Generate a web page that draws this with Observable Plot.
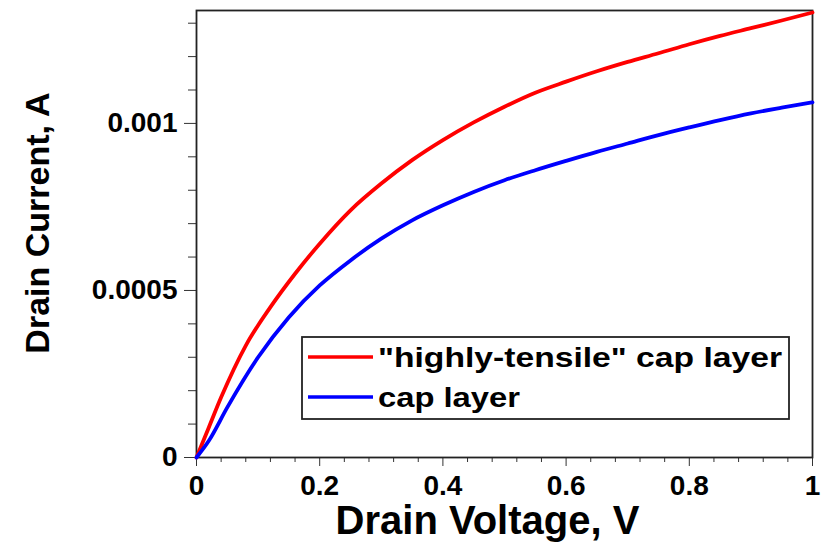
<!DOCTYPE html>
<html>
<head>
<meta charset="utf-8">
<script src="https://cdn.jsdelivr.net/npm/d3@7"></script>
<script src="https://cdn.jsdelivr.net/npm/@observablehq/plot@0.6"></script>
<style>
  html, body { margin: 0; padding: 0; background: #fff; }
  #chart { position: relative; width: 825px; height: 543px; }
</style>
</head>
<body>
<div id="chart"></div>
<script>
// ---- data ----
const seriesNames = ["\"highly-tensile\" cap layer", "cap layer"];
const seriesColors = ["#ff0000", "#0000ff"];

const tensileV = [0, 0.02, 0.04, 0.08, 0.12, 0.16, 0.2, 0.25, 0.3, 0.35, 0.4, 0.45, 0.5, 0.55, 0.6, 0.65, 0.7, 0.75, 0.8, 0.85, 0.9, 0.95, 1.0];
const tensileI = [0, 0.00009, 0.00018, 0.000335, 0.00045, 0.00055, 0.00064, 0.00074, 0.00082, 0.00089, 0.00095, 0.001003, 0.00105, 0.001092, 0.001125, 0.001156, 0.001184, 0.00121, 0.001237, 0.001262, 0.001285, 0.001308, 0.001332];

const capV = [0, 0.02, 0.05, 0.1, 0.15, 0.2, 0.25, 0.3, 0.35, 0.4, 0.45, 0.5, 0.55, 0.6, 0.65, 0.7, 0.75, 0.8, 0.85, 0.9, 0.95, 1.0];
const capI = [0, 0.00005, 0.00015, 0.0003, 0.00042, 0.000515, 0.00059, 0.000655, 0.00071, 0.000755, 0.000795, 0.00083, 0.00086, 0.000888, 0.000915, 0.00094, 0.000965, 0.000988, 0.00101, 0.00103, 0.001047, 0.001063];

const xMajorTicks = [0, 0.2, 0.4, 0.6, 0.8, 1];
const xTickLabels = ["0", "0.2", "0.4", "0.6", "0.8", "1"];
const xMinorTicks = [0.04, 0.08, 0.12, 0.16, 0.24, 0.28, 0.32, 0.36, 0.44, 0.48, 0.52, 0.56, 0.64, 0.68, 0.72, 0.76, 0.84, 0.88, 0.92, 0.96];
const yMajorTicks = [0, 0.0005, 0.001];
const yTickLabels = ["0", "0.0005", "0.001"];
const yMinorTicks = [0.0001, 0.0002, 0.0003, 0.0004, 0.0006, 0.0007, 0.0008, 0.0009, 0.0011, 0.0012, 0.0013];
const xDomain = [0, 1];
const yDomain = [0, 0.001338];
const xTitle = "Drain Voltage, V";
const yTitle = "Drain Current, A";

// ---- build table ----
const rows = [
  ...tensileV.map((v, i) => ({series: seriesNames[0], v, i: tensileI[i]})),
  ...capV.map((v, i) => ({series: seriesNames[1], v, i: capI[i]}))
];

const FONT = "Liberation Sans, Arial, Helvetica, sans-serif";

const plot = Plot.plot({
  width: 825,
  height: 543,
  marginLeft: 196,
  marginRight: 13,
  marginTop: 10,
  marginBottom: 86,
  style: {fontFamily: FONT, fontWeight: "bold", color: "#000", background: "#fff", overflow: "visible"},
  x: {domain: xDomain},
  y: {domain: yDomain},
  color: {domain: seriesNames, range: seriesColors},
  marks: [
    Plot.axisX(xMinorTicks, {tickSize: 5, tickFormat: () => "", stroke: "#333", label: null}),
    Plot.axisX(xMajorTicks, {tickSize: 9, tickPadding: 9, fontSize: 28, fontWeight: "bold",
      tickFormat: d => xTickLabels[xMajorTicks.indexOf(d)], stroke: "#333", label: null}),
    Plot.axisY(yMinorTicks, {tickSize: 8, tickFormat: () => "", stroke: "#333", label: null}),
    Plot.axisY(yMajorTicks, {tickSize: 12, tickPadding: 7, fontSize: 28, fontWeight: "bold",
      tickFormat: d => yTickLabels[yMajorTicks.indexOf(d)], stroke: "#333", label: null}),
    Plot.frame({stroke: "#222", strokeWidth: 1.8}),
    Plot.line(rows, {x: "v", y: "i", z: "series", stroke: "series", strokeWidth: 3.8, curve: "monotone-x"}),
    Plot.text([xTitle], {frameAnchor: "bottom", textAnchor: "middle", lineAnchor: "middle",
      dx: -17, dy: 64, fontSize: 40, fontWeight: "bold", fill: "#000"}),
    Plot.text([yTitle], {frameAnchor: "left", textAnchor: "middle", lineAnchor: "middle", rotate: -90,
      dx: -158, dy: -11, fontSize: 34, fontWeight: "bold", fill: "#000"})
  ]
});

document.getElementById("chart").appendChild(plot);

// ---- legend (boxed, inside plot area) ----
const svg = d3.select(plot);
const lg = svg.append("g").attr("font-family", FONT).attr("font-weight", "bold").attr("text-anchor", "start");
lg.append("rect").attr("x", 302).attr("y", 337).attr("width", 487).attr("height", 82)
  .attr("fill", "#fff").attr("stroke", "#222").attr("stroke-width", 1.8);
const legendRowsY = [357, 397];
const legendTextLen = [404, 142];
seriesNames.forEach((name, k) => {
  lg.append("line").attr("x1", 308).attr("x2", 373)
    .attr("y1", legendRowsY[k]).attr("y2", legendRowsY[k])
    .attr("stroke", seriesColors[k]).attr("stroke-width", 3.6);
  lg.append("text").attr("x", 378).attr("y", legendRowsY[k] + 10)
    .attr("font-size", 28).attr("fill", "#000").attr("text-anchor", "start")
    .attr("textLength", legendTextLen[k]).attr("lengthAdjust", "spacingAndGlyphs")
    .text(name);
});
</script>
</body>
</html>
